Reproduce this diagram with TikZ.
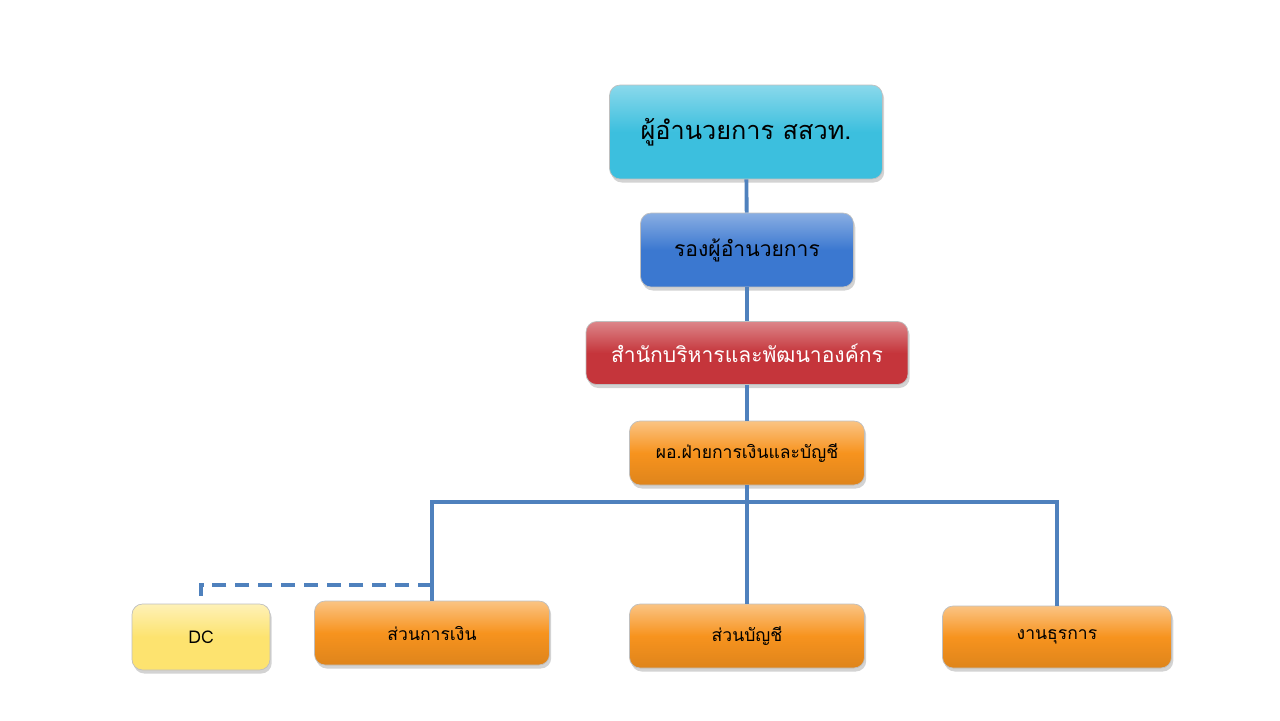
\documentclass[tikz,border=0pt]{standalone}
\usepackage{fontspec}
\newfontfamily\thaifont[Script=Thai]{Loma}
\usetikzlibrary{shadows}
\definecolor{linkblue}{HTML}{4F81BD}
\definecolor{cyanbox}{HTML}{3CBFDE}
\definecolor{bluebox}{HTML}{3B78D0}
\definecolor{redbox}{HTML}{C5353B}
\definecolor{orangebox}{HTML}{F7931E}
\definecolor{yellowbox}{HTML}{FDE36F}
\begin{document}
\begin{tikzpicture}
  [x=0.02cm, y=-0.02cm, font=\thaifont,
    every unit/.style={
      rectangle,
      rounded corners=6pt,
      draw=black!25,
      drop shadow={opacity=0.35, shadow xshift=1pt, shadow yshift=-2pt},
      inner sep=0pt
    },
    unit cyan/.style={top color=cyanbox!60!white, bottom color=cyanbox, middle color=cyanbox},
    unit blue/.style={top color=bluebox!60!white, bottom color=bluebox, middle color=bluebox},
    unit red/.style={top color=redbox!60!white, bottom color=redbox, middle color=redbox, text=white},
    unit orange/.style={top color=orangebox!55!white, bottom color=orangebox!90!black, middle color=orangebox},
    unit yellow/.style={top color=yellowbox!50!white, bottom color=yellowbox, middle color=yellowbox},
    link/.style={draw=linkblue, line width=2.2pt},
  ]
\useasboundingbox (0,0) rectangle (1280,720);

% Upper chain
\node [every unit, unit cyan, minimum width=5.46cm, minimum height=1.88cm,
  font=\thaifont\Large] (director) at (746,132) {ผู้อำนวยการ สสวท.};
\node [every unit, unit blue, minimum width=4.26cm, minimum height=1.48cm,
  font=\thaifont\large] (deputy) at (747,250) {รองผู้อำนวยการ};
\node [every unit, unit red, minimum width=6.44cm, minimum height=1.26cm,
  font=\thaifont\large] (office) at (747,353) {สำนักบริหารและพัฒนาองค์กร};
\node [every unit, unit orange, minimum width=4.7cm, minimum height=1.28cm]
  (finance-head) at (747,453) {ผอ.ฝ่ายการเงินและบัญชี};

% Lower row
\node [every unit, unit yellow, minimum width=2.76cm, minimum height=1.32cm]
  (dc) at (201,637) {DC};
\node [every unit, unit orange, minimum width=4.7cm, minimum height=1.28cm]
  (money) at (432,633) {ส่วนการเงิน};
\node [every unit, unit orange, minimum width=4.7cm, minimum height=1.28cm]
  (account) at (747,636) {ส่วนบัญชี};
\node [every unit, unit orange, minimum width=4.58cm, minimum height=1.24cm]
  (admin) at (1057,637) {งานธุรการ};

% Connect the chain
\foreach \a/\b in {director/deputy, deputy/office, office/finance-head}
  \draw [link] (\a) -- (\b);

% Branch to the lower row
\coordinate (bus) at (747,502);
\draw [link] (finance-head) -- (bus);
\draw [link] (money.north) -- (money.north |- bus) -- (admin.north |- bus) -- (admin.north);
\draw [link] (bus) -- (account);

% Dashed link to DC
\coordinate (dash-start) at (432,585);
\draw [link, dashed, dash pattern=on 8pt off 5pt] (dash-start) -| (dc.north);
\end{tikzpicture}
\end{document}
